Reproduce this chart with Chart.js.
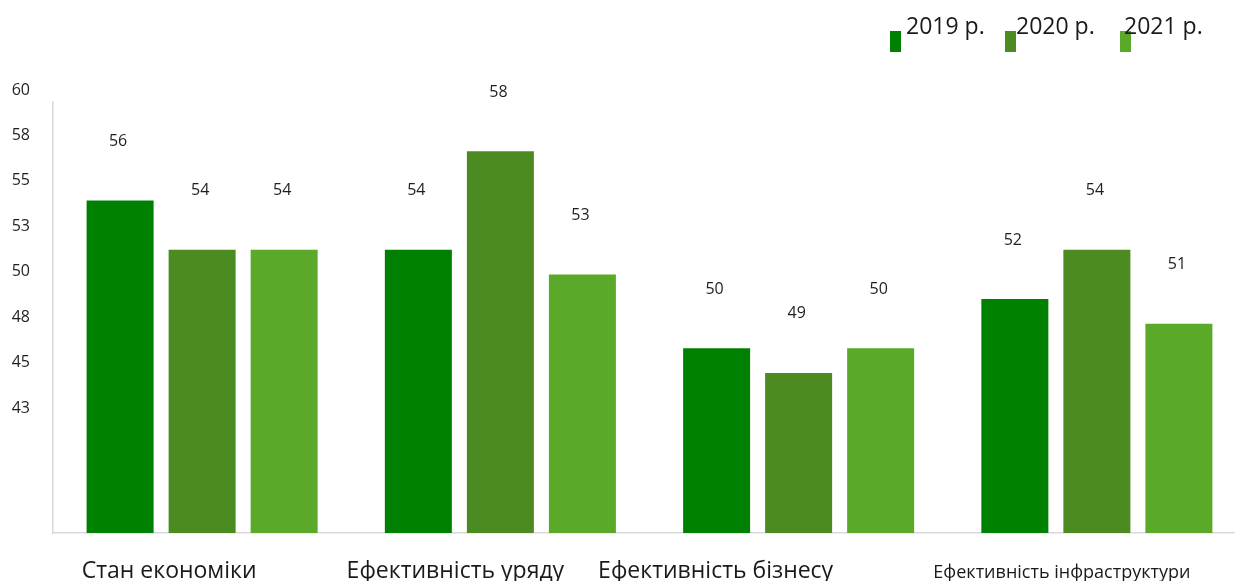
<!DOCTYPE html>
<html><head><meta charset="utf-8">
<script src="https://cdn.jsdelivr.net/npm/chart.js@4.4.1/dist/chart.umd.min.js"></script>
<style>html,body{margin:0;padding:0;background:#fff;overflow:hidden;width:1235px;height:581px}
#wrap{width:1250px;height:581px;position:relative}</style></head>
<body><div id="wrap"><canvas id="c" width="1250" height="581"></canvas></div>
<script>
const categories = ['Стан економіки','Ефективність уряду','Ефективність бізнесу','Ефективність інфраструктури'];
const seriesNames = ['2019 р.','2020 р.','2021 р.'];
const values2019 = [56,54,50,52];
const values2020 = [54,58,49,54];
const values2021 = [54,53,50,51];
const tickValues = [60,57.5,55,52.5,50,47.5,45,42.5];
const colors = ['#008000','#4B8B22','#5AA928'];

const FONT = '"Open Sans", "Noto Sans", sans-serif';

const dataLabels = {
  id: 'dataLabels',
  afterDatasetsDraw(chart) {
    const ctx = chart.ctx;
    ctx.save();
    ctx.font = '16px ' + FONT;
    ctx.fillStyle = '#1f1f1f';
    ctx.textAlign = 'center';
    ctx.textBaseline = 'middle';
    chart.data.datasets.forEach((ds, di) => {
      chart.getDatasetMeta(di).data.forEach((bar, i) => {
        ctx.fillText(String(ds.data[i]), bar.x - 2, bar.y - 59);
      });
    });
    ctx.restore();
  }
};

const catLabels = {
  id: 'catLabels',
  afterDraw(chart, args, opts) {
    const ctx = chart.ctx, xs = chart.scales.x;
    ctx.save();
    ctx.fillStyle = '#1a1a1a';
    ctx.textAlign = 'center';
    ctx.textBaseline = 'alphabetic';
    categories.forEach((c, i) => {
      ctx.font = opts.sizes[i] + 'px ' + FONT;
      ctx.fillText(c, xs.getPixelForValue(i) + opts.shift[i], opts.y);
    });
    ctx.restore();
  }
};

const topLegend = {
  id: 'topLegend',
  afterDraw(chart, args, opts) {
    const ctx = chart.ctx;
    ctx.save();
    ctx.font = '23px ' + FONT;
    ctx.textBaseline = 'alphabetic';
    ctx.textAlign = 'left';
    chart.data.datasets.forEach((ds, i) => {
      const x = opts.x + i * opts.step;
      ctx.fillStyle = ds.backgroundColor;
      ctx.fillRect(x, 31, 11, 21);
      ctx.fillStyle = '#1a1a1a';
      ctx.fillText(ds.label, x + opts.textOffset[i], 34);
    });
    ctx.restore();
  }
};

new Chart(document.getElementById('c'), {
  type: 'bar',
  data: {
    labels: categories,
    datasets: [
      {label: seriesNames[0], data: values2019, backgroundColor: colors[0], yAxisID: 'y'},
      {label: seriesNames[1], data: values2020, backgroundColor: colors[1], yAxisID: 'y'},
      {label: seriesNames[2], data: values2021, backgroundColor: colors[2], yAxisID: 'y'}
    ]
  },
  options: {
    responsive: false,
    animation: false,
    events: [],
    layout: {padding: {top: 102, bottom: 48, left: 0, right: 4}},
    datasets: {bar: {categoryPercentage: 0.825, barPercentage: 0.817}},
    scales: {
      x: {
        type: 'category',
        offset: true,
        grid: {display: false},
        ticks: {display: false},
        border: {display: true, color: '#d9d9d9', width: 1.5},
        afterFit(s) { s.height = 0; }
      },
      y: {
        display: false,
        min: 42.5, max: 60,
        weight: 0
      },
      y2: {
        position: 'left',
        weight: 1,
        min: 36.28, max: 60,
        grid: {display: false},
        border: {display: true, color: '#d9d9d9', width: 1.5},
        afterBuildTicks(s) { s.ticks = tickValues.map(v => ({value: v})); },
        afterFit(s) { s.width = 53; },
        ticks: {
          padding: 15,
          labelOffset: -12,
          color: '#1f1f1f',
          font: {family: FONT, size: 16},
          callback: v => String(Math.round(v))
        }
      }
    },
    plugins: {
      legend: {display: false},
      tooltip: {enabled: false},
      catLabels: {shift: [-33, -45, -83, -35], sizes: [23, 23, 23, 18], y: 578},
      topLegend: {x: 890, step: 115, textOffset: [16, 11, 4]}
    }
  },
  plugins: [dataLabels, catLabels, topLegend]
});
</script></body></html>
